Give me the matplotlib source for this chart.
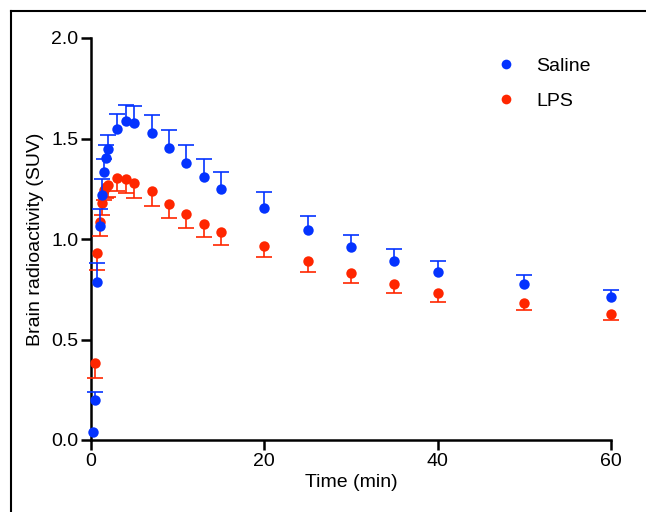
import matplotlib
matplotlib.use("Agg")
import matplotlib.pyplot as plt
from matplotlib.lines import Line2D
import numpy as np

plt.rcParams['font.family'] = ['Liberation Sans', 'DejaVu Sans']

# time points (min)
saline_time = [0.25, 0.5, 0.75, 1.0, 1.25, 1.5, 1.75, 2, 3, 4, 5, 7, 9, 11,
               13, 15, 20, 25, 30, 35, 40, 50, 60]
lps_time = [0.5, 0.75, 1.0, 1.25, 1.5, 1.75, 2, 3, 4, 5, 7, 9, 11, 13, 15,
            20, 25, 30, 35, 40, 50, 60]

# Saline mean and upper SD
saline = [0.04, 0.20, 0.785, 1.065, 1.217, 1.333, 1.405, 1.446, 1.549, 1.587,
          1.575, 1.529, 1.455, 1.38, 1.31, 1.249, 1.155, 1.045, 0.96, 0.892,
          0.838, 0.776, 0.71]
saline_sd = [0.0, 0.04, 0.095, 0.085, 0.083, 0.067, 0.065, 0.07, 0.073, 0.078,
             0.087, 0.089, 0.089, 0.089, 0.088, 0.086, 0.078, 0.069, 0.061,
             0.058, 0.052, 0.046, 0.038]

# LPS mean and lower SD
lps = [0.385, 0.932, 1.083, 1.181, 1.244, 1.257, 1.269, 1.303, 1.297,
       1.279, 1.239, 1.176, 1.123, 1.075, 1.033, 0.967, 0.891, 0.829, 0.776,
       0.731, 0.68, 0.628]
lps_sd = [0.078, 0.086, 0.068, 0.062, 0.05, 0.055, 0.06, 0.066, 0.07,
          0.075, 0.075, 0.072, 0.07, 0.067, 0.063, 0.058, 0.054, 0.048, 0.045,
          0.043, 0.035, 0.031]

blue = '#0433FF'
red = '#FF2600'

fig = plt.figure(figsize=(6.46, 5.12), dpi=100)
ax = fig.add_axes([91 / 646, 72 / 512, 520 / 646, 402 / 512])


def one_sided(t, y, sd, color, sign, z, label):
    t = np.array(t)
    y = np.array(y)
    sd = np.array(sd)
    end = y + sign * sd
    has = sd > 0
    ax.vlines(t[has], y[has], end[has], color=color, lw=1.2, zorder=z,
              clip_on=False)
    ax.plot(t[has], end[has], ls='none', marker='_', ms=12, mew=1.2,
            color=color, zorder=z, clip_on=False)
    ax.plot(t, y, ls='none', marker='o', ms=7.5, mew=0, color=color,
            zorder=z + 0.5, clip_on=False, label=label)


one_sided(lps_time, lps, lps_sd, red, -1, 3, 'LPS')
one_sided(saline_time, saline, saline_sd, blue, 1, 4, 'Saline')

ax.set_xlim(0, 60)
ax.set_ylim(0, 2.0)
ax.set_xticks([0, 20, 40, 60])
ax.set_yticks([0, 0.5, 1.0, 1.5, 2.0])
ax.set_yticklabels(['0.0', '0.5', '1.0', '1.5', '2.0'])
ax.spines['top'].set_visible(False)
ax.spines['right'].set_visible(False)
for s in ['left', 'bottom']:
    ax.spines[s].set_linewidth(1.8)
ax.tick_params(direction='out', length=7, width=1.8, labelsize=14, pad=2)
ax.set_xlabel('Time (min)', fontsize=14, labelpad=3)
ax.set_ylabel('Brain radioactivity (SUV)', fontsize=14, labelpad=5)

leg_handles = [Line2D([], [], marker='o', ls='none', color=blue, ms=7, mew=0),
               Line2D([], [], marker='o', ls='none', color=red, ms=7, mew=0)]
ax.legend(leg_handles, ['Saline', 'LPS'], loc='upper right', frameon=False,
          fontsize=14, handlelength=1.0, handletextpad=1.05,
          labelspacing=0.9, bbox_to_anchor=(0.994, 0.995))

# partial frame around the figure (left and top only)
fx = 11 / 646
fy = 1 - 11 / 512
fig.add_artist(Line2D([fx, fx], [0, fy], transform=fig.transFigure,
                      color='black', lw=1.5))
fig.add_artist(Line2D([fx, 1], [fy, fy], transform=fig.transFigure,
                      color='black', lw=1.5))

fig.savefig('out.png', dpi=100)
